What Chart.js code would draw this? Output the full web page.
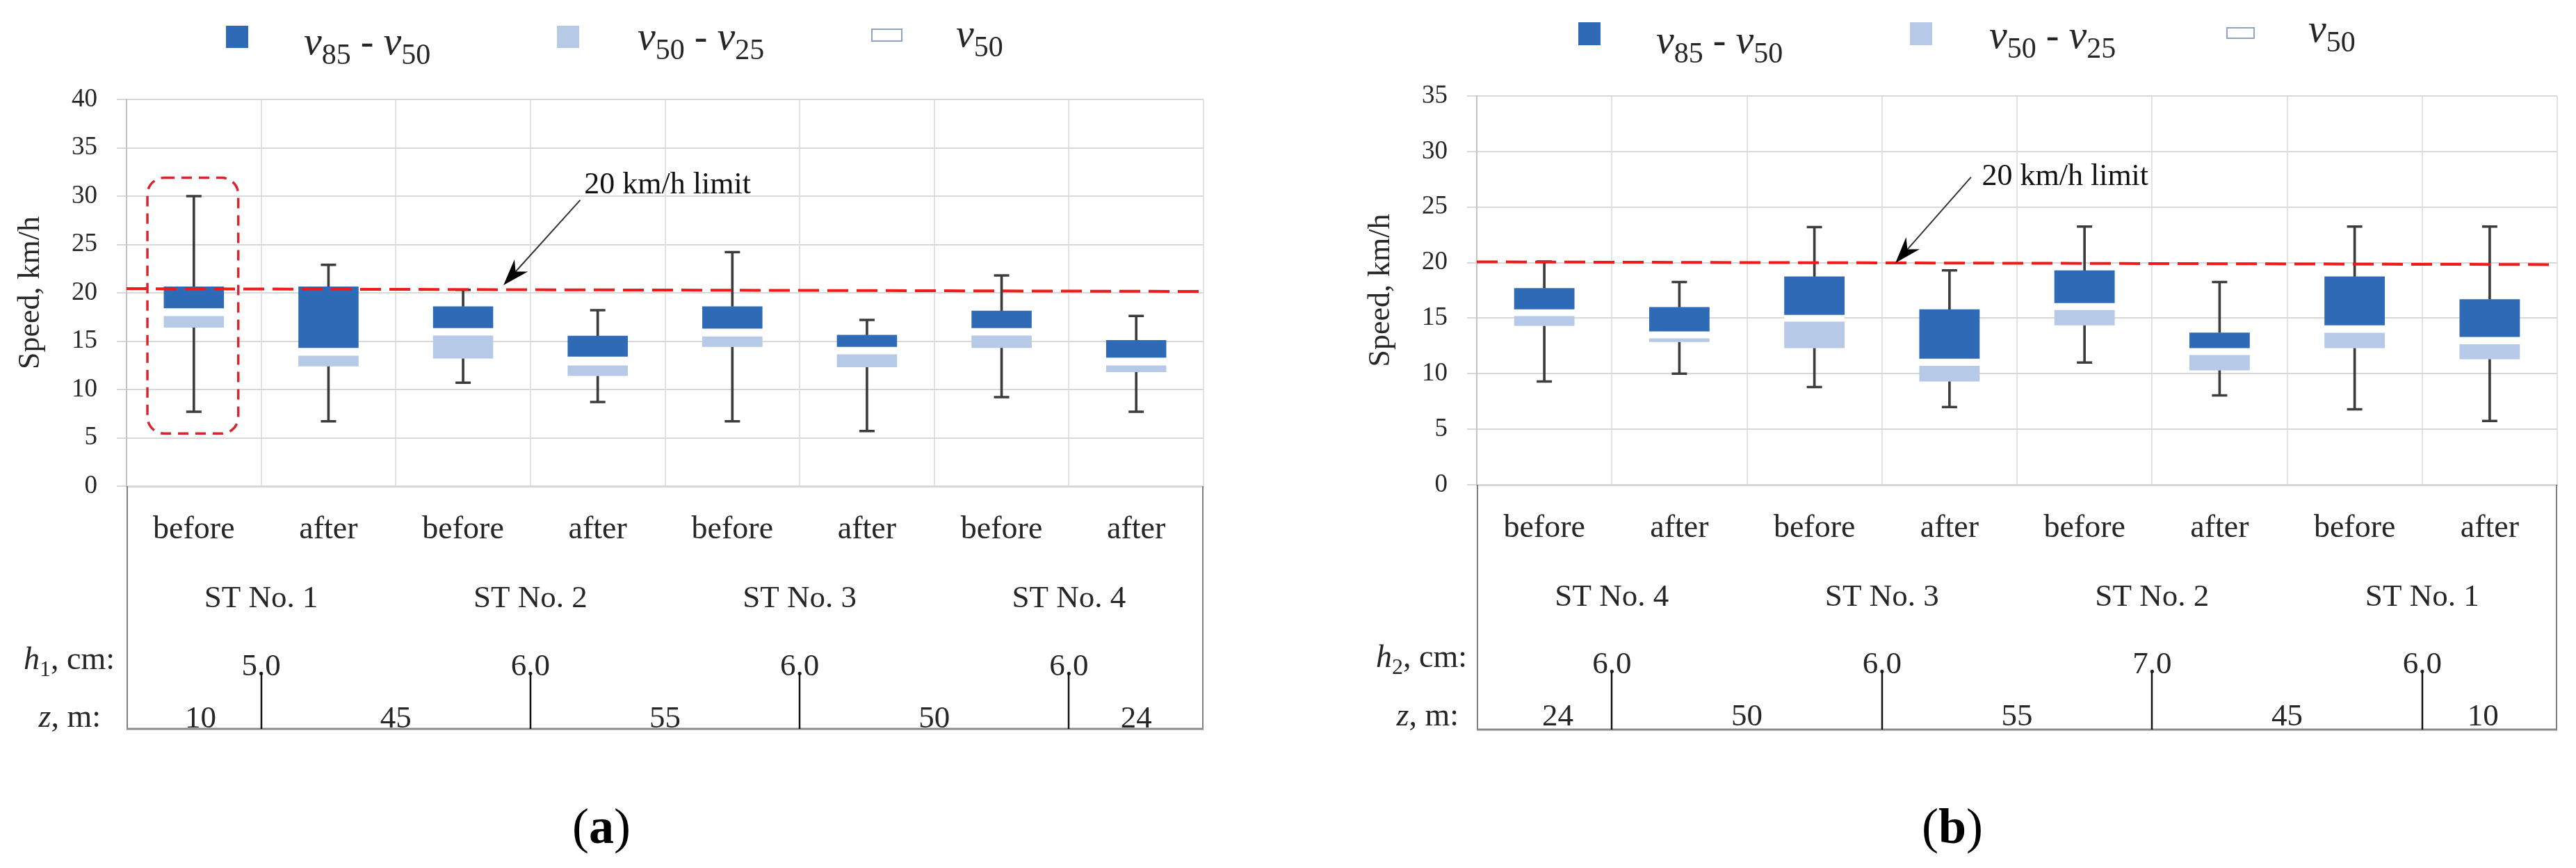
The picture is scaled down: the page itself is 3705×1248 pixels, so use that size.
<!DOCTYPE html>
<html><head><meta charset="utf-8">
<script src="https://cdn.jsdelivr.net/npm/chart.js@4.4.1/dist/chart.umd.min.js"></script>
<style>
html,body{margin:0;padding:0;background:#fff;width:3705px;height:1248px;overflow:hidden}
canvas{position:absolute;top:0}
#ca{left:0;width:1760px;height:1248px}
#cb{left:1942px;width:1763px;height:1248px}
</style></head><body>
<canvas id="ca" width="1760" height="1248"></canvas>
<canvas id="cb" width="1763" height="1248"></canvas>
<script>
// ---------- DATA: panel (a) ----------
const categoriesA = ['before','after','before','after','before','after','before','after'];
const groupsA = ['ST No. 1','ST No. 2','ST No. 3','ST No. 4'];
const heightsA = ['5.0','6.0','6.0','6.0'];
const distancesA = ['10','45','55','50','24'];
const minA    = [7.7, 6.7, 10.7, 8.7, 6.7, 5.7, 9.2, 7.7];
const v25A    = [16.4, 12.4, 13.2, 11.4, 14.4, 12.3, 14.3, 11.8];
const v50A    = [17.6, 13.5, 15.6, 12.5, 15.5, 13.65, 15.6, 12.5];
const v50TopA = [18.4, 14.3, 16.35, 13.4, 16.3, 14.4, 16.35, 13.3];
const v85A    = [20.65, 20.65, 18.6, 15.55, 18.6, 15.65, 18.15, 15.1];
const maxA    = [30.0, 22.9, 20.3, 18.2, 24.2, 17.2, 21.8, 17.6];
const limitA  = [20.43, 20.14];
const yTicksA = [0, 40, 5];

// ---------- DATA: panel (b) ----------
const categoriesB = ['before','after','before','after','before','after','before','after'];
const groupsB = ['ST No. 4','ST No. 3','ST No. 2','ST No. 1'];
const heightsB = ['6.0','6.0','7.0','6.0'];
const distancesB = ['24','50','55','45','10'];
const minB    = [9.3, 10.0, 8.8, 7.0, 11.0, 8.05, 6.8, 5.75];
const v25B    = [14.3, 12.85, 12.3, 9.3, 14.35, 10.3, 12.3, 11.3];
const v50B    = [15.2, 13.2, 14.7, 10.7, 15.75, 11.7, 13.7, 12.65];
const v50TopB = [15.8, 13.8, 15.3, 11.35, 16.35, 12.3, 14.35, 13.3];
const v85B    = [17.7, 16.0, 18.75, 15.8, 19.3, 13.7, 18.75, 16.7];
const maxB    = [20.1, 18.25, 23.2, 19.3, 23.25, 18.25, 23.25, 23.25];
const limitB  = [20.07, 19.82];
const yTicksB = [0, 35, 5];

// ---------- STYLE / LAYOUT ----------
const DARK = '#2E6AB6', LIGHT = '#B6C9E6', WHISK = '#3c3c3c', INK = '#262626';
const SERIF = '"Liberation Serif", "DejaVu Serif", serif';

function font(p){ return (p.i?'italic ':'') + (p.b?'bold ':'') + p.s + 'px ' + SERIF; }
function drawRich(ctx, x, y, parts, align){
  let total = 0;
  parts.forEach(p => { ctx.font = font(p); total += ctx.measureText(p.t).width; });
  let cx = align === 'right' ? x - total : align === 'center' ? x - total/2 : x;
  ctx.textAlign = 'left'; ctx.textBaseline = 'alphabetic';
  parts.forEach(p => { ctx.font = font(p); ctx.fillText(p.t, cx, y + (p.dy||0)); cx += ctx.measureText(p.t).width; });
}
function vSub(a, b){
  const parts = [{t:'v', i:1, s:58}, {t:a, s:42, dy:14}];
  if (b) parts.push({t:' - ', s:56}, {t:'v', i:1, s:58}, {t:b, s:42, dy:14});
  return parts;
}

const LAYOUT_A = {
  padTop:143, padRight:29, xHeight:549, hSub:'1', caption:'a', captionX:865, captionY:1212,
  legend:[
    {box:[325,37,32,32], fill:DARK, tx:437, ty:78, parts:vSub('85','50')},
    {box:[801,37,32,32], fill:LIGHT, tx:917, ty:71, parts:vSub('50','25')},
    {box:[1253,41,45,19], fill:'#fff', stroke:'#8FA4C4', tx:1375, ty:67, parts:vSub('50')}
  ],
  groupY:873, hY:971, tickTop:967, bottomY:1048, zY:1046, hLabelX:165, hLabelY:962, zLabelX:145, zLabelY:1045,
  zPos:[0.05, 1.5, 3.5, 5.5, 7.0],
  arrow:{tail:[2.87, 29.6], tip:[2.30, 20.8], text:[2.9, 30.3]},
  box:{x0:-0.345, x1:0.33, y0:31.9, y1:5.45}
};
const LAYOUT_B = {
  padTop:138, padRight:27, xHeight:551, hSub:'2', caption:'b', captionX:866, captionY:1212,
  legend:[
    {box:[328,32,32,33], fill:DARK, tx:440, ty:76, parts:vSub('85','50')},
    {box:[805,32,32,33], fill:LIGHT, tx:919, ty:69, parts:vSub('50','25')},
    {box:[1260,39,41,17], fill:'#fff', stroke:'#8FA4C4', tx:1378, ty:60, parts:vSub('50')}
  ],
  groupY:871, hY:968, tickTop:966, bottomY:1049, zY:1043, hLabelX:168, hLabelY:959, zLabelX:156, zLabelY:1043,
  zPos:[0.1, 1.5, 3.5, 5.5, 6.95],
  arrow:{tail:[3.16, 27.7], tip:[2.60, 19.97], text:[3.24, 27.0]},
  box:null
};

function makeChart(id, D, L){
  const extras = {
    id:'extras_'+id,
    afterDatasetsDraw(chart){
      const ctx = chart.ctx, xs = chart.scales.x, ys = chart.scales.y;
      ctx.save();
      if (L.box){
        const x0 = xs.getPixelForValue(L.box.x0), x1 = xs.getPixelForValue(L.box.x1);
        const y0 = ys.getPixelForValue(L.box.y0), y1 = ys.getPixelForValue(L.box.y1);
        ctx.strokeStyle = '#D7262E'; ctx.lineWidth = 3.5; ctx.setLineDash([15,10]);
        ctx.beginPath(); ctx.roundRect(x0, y0, x1-x0, y1-y0, 24); ctx.stroke();
        ctx.setLineDash([]);
      }
      // arrow
      const tx = xs.getPixelForValue(L.arrow.tail[0]), ty = ys.getPixelForValue(L.arrow.tail[1]);
      const px = xs.getPixelForValue(L.arrow.tip[0]), py = ys.getPixelForValue(L.arrow.tip[1]);
      const len = Math.hypot(px-tx, py-ty), ux = (px-tx)/len, uy = (py-ty)/len, nx = -uy, ny = ux;
      ctx.strokeStyle = '#333'; ctx.lineWidth = 2;
      ctx.beginPath(); ctx.moveTo(tx, ty); ctx.lineTo(px - ux*20, py - uy*20); ctx.stroke();
      ctx.fillStyle = '#000';
      ctx.beginPath();
      ctx.moveTo(px, py);
      ctx.lineTo(px - ux*38 + nx*13, py - uy*38 + ny*13);
      ctx.lineTo(px - ux*26, py - uy*26);
      ctx.lineTo(px - ux*38 - nx*13, py - uy*38 - ny*13);
      ctx.closePath(); ctx.fill();
      ctx.fillStyle = '#111';
      drawRich(ctx, xs.getPixelForValue(L.arrow.text[0]), ys.getPixelForValue(L.arrow.text[1]), [{t:'20 km/h limit', s:44}], 'left');
      ctx.restore();
    },
    afterDraw(chart){
      const ctx = chart.ctx, ca = chart.chartArea, xs = chart.scales.x;
      ctx.save();
      // legend
      L.legend.forEach(it => {
        const [bx,by,bw,bh] = it.box;
        ctx.fillStyle = it.fill; ctx.fillRect(bx,by,bw,bh);
        if (it.stroke){ ctx.strokeStyle = it.stroke; ctx.lineWidth = 2; ctx.strokeRect(bx+1,by+1,bw-2,bh-2); }
        ctx.fillStyle = INK; drawRich(ctx, it.tx, it.ty, it.parts, 'left');
      });
      // multi-level category frame
      ctx.strokeStyle = '#808080'; ctx.lineWidth = 2;
      ctx.beginPath();
      ctx.moveTo(ca.left+1, ca.bottom); ctx.lineTo(ca.left+1, L.bottomY);
      ctx.moveTo(ca.right-1, ca.bottom); ctx.lineTo(ca.right-1, L.bottomY);
      ctx.stroke();
      ctx.strokeStyle = '#8a8a8a'; ctx.lineWidth = 3;
      ctx.beginPath(); ctx.moveTo(ca.left, L.bottomY); ctx.lineTo(ca.right, L.bottomY); ctx.stroke();
      ctx.fillStyle = INK;
      D.groups.forEach((g, k) => drawRich(ctx, xs.getPixelForValue(2*k+0.5), L.groupY, [{t:g, s:45}], 'center'));
      D.heights.forEach((h, k) => drawRich(ctx, xs.getPixelForValue(2*k+0.5), L.hY, [{t:h, s:45}], 'center'));
      ctx.strokeStyle = '#111'; ctx.lineWidth = 2.5;
      D.heights.forEach((h, k) => {
        const x = Math.round(xs.getPixelForValue(2*k+0.5));
        ctx.beginPath(); ctx.moveTo(x, L.tickTop); ctx.lineTo(x, L.bottomY); ctx.stroke();
      });
      D.distances.forEach((z, k) => drawRich(ctx, xs.getPixelForValue(L.zPos[k]), L.zY, [{t:z, s:45}], 'center'));
      drawRich(ctx, L.hLabelX, L.hLabelY, [{t:'h', i:1, s:46}, {t:L.hSub, s:32, dy:10}, {t:', cm:', s:46}], 'right');
      drawRich(ctx, L.zLabelX, L.zLabelY, [{t:'z', i:1, s:46}, {t:', m:', s:46}], 'right');
      // caption
      ctx.fillStyle = '#000';
      drawRich(ctx, L.captionX, L.captionY, [{t:'(', s:72}, {t:L.caption, b:1, s:72}, {t:')', s:72}], 'center');
      ctx.restore();
    }
  };

  const barCommon = {type:'bar', grouped:false, categoryPercentage:1.0, barPercentage:0.447, borderWidth:0};
  const pair = (lo, hi) => lo.map((v, i) => [v, hi[i]]);
  const capCommon = {type:'line', showLine:false, pointStyle:'line', pointRadius:11, pointHoverRadius:11,
                     pointBorderWidth:3.5, pointBorderColor:WHISK, borderColor:WHISK, order:0};

  return new Chart(document.getElementById(id), {
    type:'bar',
    data:{
      labels:D.categories,
      datasets:[
        Object.assign({label:'v85 - v50', data:pair(D.v50Top, D.v85), backgroundColor:DARK, order:1}, barCommon),
        Object.assign({label:'v50', data:pair(D.v50, D.v50Top), backgroundColor:'#ffffff', order:1}, barCommon),
        Object.assign({label:'v50 - v25', data:pair(D.v25, D.v50), backgroundColor:LIGHT, order:1}, barCommon),
        {type:'bar', label:'upper whisker', data:pair(D.v85, D.max), backgroundColor:WHISK, grouped:false, barThickness:3, order:2},
        {type:'bar', label:'lower whisker', data:pair(D.min, D.v25), backgroundColor:WHISK, grouped:false, barThickness:3, order:2},
        Object.assign({label:'max', data:D.max}, capCommon),
        Object.assign({label:'min', data:D.min}, capCommon),
        {type:'line', label:'20 km/h limit', parsing:false, data:[{x:-0.5, y:D.limit[0]}, {x:7.5, y:D.limit[1]}],
         borderColor:'#F01A1A', borderWidth:4, borderDash:[30,12], pointRadius:0, order:-1, clip:false}
      ]
    },
    options:{
      responsive:false, devicePixelRatio:1, animation:false,
      layout:{padding:{top:L.padTop, right:L.padRight, left:0, bottom:0}},
      plugins:{legend:{display:false}, tooltip:{enabled:false}, title:{display:false}},
      scales:{
        x:{
          type:'category', offset:true,
          grid:{offset:true, color:'#E3E3E3', lineWidth:2, drawTicks:false},
          border:{color:'#D6D6D6', width:3},
          ticks:{font:{family:SERIF, size:46}, color:INK, padding:35, autoSkip:false, maxRotation:0},
          afterFit(s){ s.height = L.xHeight; }
        },
        y:{
          min:D.yTicks[0], max:D.yTicks[1],
          ticks:{stepSize:D.yTicks[2], font:{family:SERIF, size:37}, color:INK, padding:28},
          grid:{color:'#D9D9D9', lineWidth:2, tickLength:14},
          border:{color:'#C4C4C4', width:2},
          title:{display:true, text:'Speed, km/h', font:{family:SERIF, size:44}, color:INK, padding:{top:18, bottom:0}},
          afterFit(s){ s.width = 182; }
        }
      }
    },
    plugins:[extras]
  });
}

makeChart('ca', {categories:categoriesA, groups:groupsA, heights:heightsA, distances:distancesA,
  min:minA, v25:v25A, v50:v50A, v50Top:v50TopA, v85:v85A, max:maxA, limit:limitA, yTicks:yTicksA}, LAYOUT_A);
makeChart('cb', {categories:categoriesB, groups:groupsB, heights:heightsB, distances:distancesB,
  min:minB, v25:v25B, v50:v50B, v50Top:v50TopB, v85:v85B, max:maxB, limit:limitB, yTicks:yTicksB}, LAYOUT_B);
</script></body></html>
